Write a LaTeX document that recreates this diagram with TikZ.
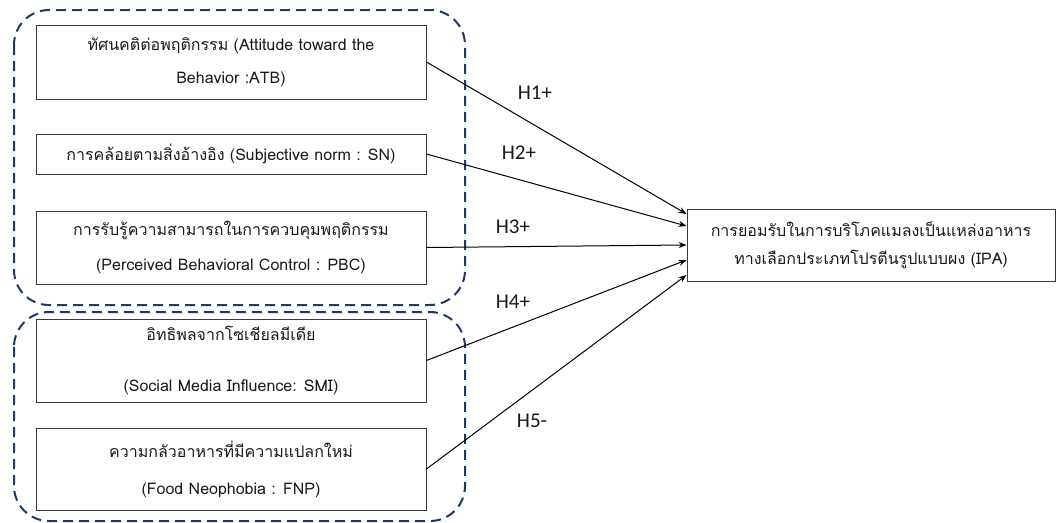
\documentclass[tikz,border=0pt]{standalone}
\usepackage{fontspec}
\newfontfamily\thaifont[Script=Thai]{Loma}
\newfontfamily\labfont{Carlito}
\usetikzlibrary{arrows.meta,calc}
\definecolor{navy}{HTML}{1F3864}
\definecolor{boxline}{HTML}{3A3A3A}
\definecolor{txt}{HTML}{1A1A1A}
\tikzset{
  grp/.style={draw=navy, line width=2pt, dash pattern=on 10pt off 6pt, rounded corners=35pt},
  box/.style={draw=boxline, line width=0.9pt, align=center, inner sep=0pt, text=txt},
  conn/.style={line width=1pt, -{Stealth[length=8pt,width=6pt]}},
  hlab/.style={font=\labfont\fontsize{21}{24}\selectfont, inner sep=0pt, text=txt}
}
\begin{document}
\begin{tikzpicture}[x=1pt,y=-1pt]
\useasboundingbox[fill=white] (0,0) rectangle (1056,522);
% groups
\draw[grp] (14,10) rectangle (465,305);
\draw[grp] (14,312) rectangle (465,521);
% boxes
\node[box, minimum width=390pt, minimum height=74pt, font=\thaifont\fontsize{16}{33}\selectfont] (atb) at (231,62)
  {ทัศนคติต่อพฤติกรรม (Attitude toward the\\Behavior :ATB)};
\node[box, minimum width=390pt, minimum height=40pt, font=\thaifont\fontsize{16}{20}\selectfont] (sn) at (231,154)
  {การคล้อยตามสิ่งอ้างอิง (Subjective norm : SN)};
\node[box, minimum width=390pt, minimum height=73pt, font=\thaifont\fontsize{16}{35}\selectfont] (pbc) at (231,247.5)
  {การรับรู้ความสามารถในการควบคุมพฤติกรรม\\(Perceived Behavioral Control : PBC)};
\node[box, minimum width=390pt, minimum height=83pt, font=\thaifont\fontsize{16}{51}\selectfont] (smi) at (231,360.5)
  {อิทธิพลจากโซเชียลมีเดีย\\(Social Media Influence: SMI)};
\node[box, minimum width=390pt, minimum height=82pt, font=\thaifont\fontsize{16}{37}\selectfont] (fnp) at (231,469)
  {ความกลัวอาหารที่มีความแปลกใหม่\\(Food Neophobia : FNP)};
\node[box, minimum width=368pt, minimum height=72pt, font=\thaifont\fontsize{16}{28}\selectfont] (ipa) at (871,245)
  {การยอมรับในการบริโภคแมลงเป็นแหล่งอาหาร\\ทางเลือกประเภทโปรตีนรูปแบบผง (IPA)};
% connectors
\draw[conn] (atb.east) -- ([yshift=31pt]ipa.west);
\draw[conn] (sn.east) -- ([yshift=19pt]ipa.west);
\draw[conn] (pbc.east) -- (ipa.west);
\draw[conn] (smi.east) -- ([yshift=-15pt]ipa.west);
\draw[conn] (fnp.east) -- ([yshift=-30pt]ipa.west);
% labels
\node[hlab] (h1) at (535,93) {H1+};
\node[hlab] (h2) at (519,153) {H2+};
\node[hlab] (h3) at (513,227) {H3+};
\node[hlab] (h4) at (513,302) {H4+};
\node[hlab] (h5) at (532,421) {H5-};
\end{tikzpicture}
\end{document}
